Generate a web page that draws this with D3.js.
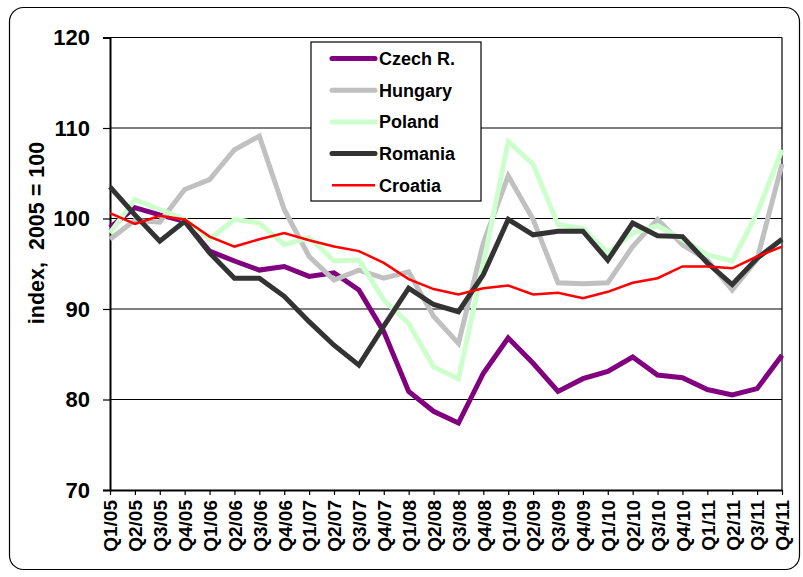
<!DOCTYPE html>
<html>
<head>
<meta charset="utf-8">
<script src="https://cdn.jsdelivr.net/npm/d3@7"></script>
<style>
  body { margin: 0; background: #fff; }
  svg { display: block; font-family: "Liberation Sans", Arial, sans-serif; }
</style>
</head>
<body>
<svg id="chart" width="803" height="577"></svg>
<script>
const quarters = ["Q1/05","Q2/05","Q3/05","Q4/05","Q1/06","Q2/06","Q3/06","Q4/06",
                  "Q1/07","Q2/07","Q3/07","Q4/07","Q1/08","Q2/08","Q3/08","Q4/08",
                  "Q1/09","Q2/09","Q3/09","Q4/09","Q1/10","Q2/10","Q3/10","Q4/10",
                  "Q1/11","Q2/11","Q3/11","Q4/11"];

const czech   = [99.0, 101.2, 100.4, 99.7, 96.4, 95.3, 94.3, 94.7, 93.6, 94.0, 92.1, 87.5, 80.9, 78.7,
                 77.4, 82.9, 86.8, 84.0, 80.9, 82.3, 83.1, 84.7, 82.7, 82.4, 81.1, 80.5, 81.2, 84.9];
const hungary = [97.7, 99.8, 99.6, 103.2, 104.3, 107.6, 109.1, 101.0, 95.8, 93.2, 94.3, 93.4, 94.1, 89.2,
                 86.2, 97.3, 104.7, 99.9, 92.9, 92.8, 92.9, 96.9, 99.9, 97.1, 95.4, 92.1, 95.5, 106.0];
const poland  = [98.4, 102.1, 101.0, 99.9, 97.7, 99.9, 99.5, 97.1, 97.9, 95.3, 95.4, 91.0, 88.4, 83.6,
                 82.3, 95.0, 108.5, 106.0, 99.3, 98.9, 96.2, 98.4, 99.2, 97.7, 96.0, 95.3, 100.6, 107.6];
const romania = [103.5, 100.4, 97.5, 99.7, 96.2, 93.4, 93.4, 91.4, 88.6, 86.0, 83.8, 88.1, 92.3, 90.5,
                 89.7, 93.8, 99.9, 98.2, 98.6, 98.6, 95.4, 99.5, 98.1, 98.0, 95.1, 92.7, 95.6, 97.7];
const croatia = [100.6, 99.4, 100.3, 99.9, 98.0, 96.9, 97.7, 98.4, 97.6, 96.9, 96.4, 95.1, 93.3, 92.2,
                 91.6, 92.3, 92.6, 91.6, 91.8, 91.2, 91.9, 92.9, 93.4, 94.7, 94.7, 94.5, 95.8, 96.9];

const yTicks = [70, 80, 90, 100, 110, 120];

const seriesList = [
    {name: "Czech R.", values: czech,   color: "#800080", width: 5},
    {name: "Hungary",  values: hungary, color: "#c0c0c0", width: 5},
    {name: "Poland",   values: poland,  color: "#ccffcc", width: 5},
    {name: "Romania",  values: romania, color: "#333333", width: 5},
    {name: "Croatia",  values: croatia, color: "#ff0000", width: 2.5}
];

const margin = {top: 37.5, right: 21, bottom: 87, left: 110},
      width = 803 - margin.left - margin.right,
      height = 577 - margin.top - margin.bottom;

const svg = d3.select("#chart");

// outer chart frame
svg.append("rect")
    .attr("x", 9.5)
    .attr("y", 7.5)
    .attr("width", 790)
    .attr("height", 562)
    .attr("rx", 14)
    .attr("fill", "#fff")
    .attr("stroke", "#000")
    .attr("stroke-width", 1.2);

const g = svg.append("g")
    .attr("transform", "translate(" + margin.left + "," + margin.top + ")");

const x = d3.scalePoint()
    .domain(quarters)
    .range([0, width]);

const y = d3.scaleLinear()
    .domain([70, 120])
    .range([height, 0]);

// grid lines
g.append("g")
    .selectAll("line")
    .data(yTicks.filter(d => d > 70))
    .join("line")
    .attr("x1", 0)
    .attr("x2", width)
    .attr("y1", d => y(d))
    .attr("y2", d => y(d))
    .attr("stroke", "#000")
    .attr("stroke-width", 1.2);

// right border of plot area
g.append("line")
    .attr("x1", width).attr("x2", width)
    .attr("y1", 0).attr("y2", height)
    .attr("stroke", "#000")
    .attr("stroke-width", 1.2);

// y axis
const yAxis = g.append("g")
    .call(d3.axisLeft(y).tickValues(yTicks).tickSize(7).tickPadding(13));
yAxis.select(".domain").attr("stroke-width", 2);
yAxis.selectAll(".tick line").attr("stroke-width", 1.2);
yAxis.selectAll("text")
    .attr("font-size", "22px")
    .attr("font-weight", "bold")
    .attr("font-family", "Liberation Sans, Arial, sans-serif")
    .attr("fill", "#000");

// x axis
const xAxis = g.append("g")
    .attr("transform", "translate(0," + height + ")")
    .call(d3.axisBottom(x).tickSize(5).tickSizeOuter(0));
xAxis.select(".domain").attr("stroke-width", 2);
xAxis.selectAll(".tick line").attr("stroke-width", 1.2);
xAxis.selectAll("text")
    .attr("font-size", "19px")
    .attr("font-weight", "bold")
    .attr("font-family", "Liberation Sans, Arial, sans-serif")
    .attr("fill", "#000")
    .attr("text-anchor", "end")
    .attr("transform", "rotate(-90)")
    .attr("x", -10)
    .attr("y", 0)
    .attr("dy", "0.36em");

// y axis title
svg.append("text")
    .attr("transform", "translate(44,233) rotate(-90)")
    .attr("text-anchor", "middle")
    .attr("font-size", "21.5px")
    .attr("font-weight", "bold")
    .attr("xml:space", "preserve")
    .style("white-space", "pre")
    .text("index,  2005 = 100");

// lines
const line = d3.line()
    .x((d, i) => x(quarters[i]))
    .y(d => y(d));

seriesList.forEach(function (s) {
    g.append("path")
        .datum(s.values)
        .attr("fill", "none")
        .attr("stroke", s.color)
        .attr("stroke-width", s.width)
        .attr("stroke-linejoin", "miter")
        .attr("d", line);
});

// legend
const legend = svg.append("g")
    .attr("transform", "translate(311,42)");

legend.append("rect")
    .attr("width", 170)
    .attr("height", 159)
    .attr("fill", "#fff")
    .attr("stroke", "#000")
    .attr("stroke-width", 1.2);

seriesList.forEach(function (s, i) {
    const row = legend.append("g")
        .attr("transform", "translate(0," + (16.5 + i * 31.7) + ")");
    row.append("line")
        .attr("x1", 21).attr("x2", 64)
        .attr("y1", 0).attr("y2", 0)
        .attr("stroke", s.color)
        .attr("stroke-width", s.width)
        .attr("stroke-linecap", s.width > 3 ? "round" : "butt");
    row.append("text")
        .attr("x", 68)
        .attr("y", 0)
        .attr("dy", "0.36em")
        .attr("font-size", "18px")
        .attr("font-weight", "bold")
        .text(s.name);
});
</script>
</body>
</html>
